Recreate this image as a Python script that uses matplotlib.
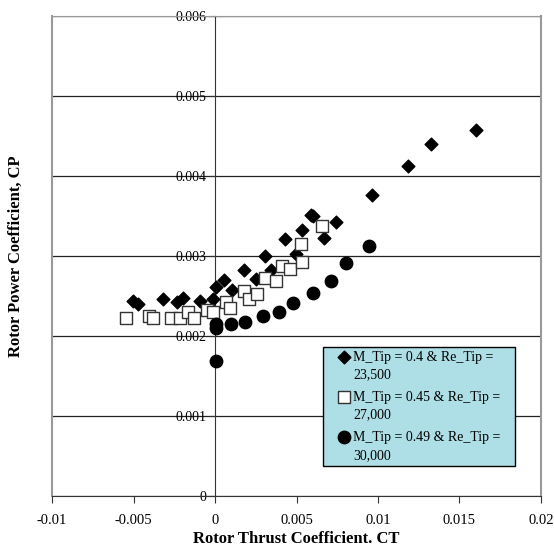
import matplotlib.pyplot as plt

plt.rcParams['font.family'] = ['Liberation Serif', 'DejaVu Serif']

# M_Tip = 0.4, Re_Tip = 23,500
ct_04 = [-0.00503, -0.00471, -0.00317, -0.00231, -0.00194, -0.00092, -0.00014,
         0.00006, 0.00055, 0.00104, 0.00178, 0.00252, 0.00309, 0.00342, 0.00429,
         0.00495, 0.00534, 0.00587, 0.00603, 0.00669, 0.00742, 0.00963, 0.01184,
         0.01323, 0.0160]
cp_04 = [0.00244, 0.00240, 0.00246, 0.00243, 0.00248, 0.00244, 0.00246,
         0.00261, 0.00270, 0.00257, 0.00282, 0.00271, 0.00300, 0.00283, 0.00321,
         0.00303, 0.00333, 0.00351, 0.00350, 0.00323, 0.00342, 0.00376, 0.00413,
         0.00440, 0.00458]

# M_Tip = 0.45, Re_Tip = 27,000
ct_045 = [-0.00546, -0.00403, -0.00382, -0.00272, -0.00215, -0.00164, -0.00127,
          -0.00051, -0.00010, 0.00067, 0.00092, 0.00180, 0.00207, 0.00260,
          0.00307, 0.00374, 0.00411, 0.00460, 0.00526, 0.00532, 0.00654]
cp_045 = [0.00222, 0.00225, 0.00223, 0.00223, 0.00223, 0.00230, 0.00223,
          0.00233, 0.00230, 0.00243, 0.00235, 0.00256, 0.00246, 0.00253,
          0.00272, 0.00269, 0.00288, 0.00284, 0.00315, 0.00293, 0.00337]

# M_Tip = 0.49, Re_Tip = 30,000
ct_049 = [0.00006, 0.00006, 0.00006, 0.00098, 0.00184, 0.00297, 0.00390,
          0.00480, 0.00603, 0.00712, 0.00804, 0.00945]
cp_049 = [0.00169, 0.00210, 0.00215, 0.00215, 0.00218, 0.00225, 0.00230,
          0.00241, 0.00254, 0.00269, 0.00291, 0.00313]

labels = ['M_Tip = 0.4 & Re_Tip =\n23,500',
          'M_Tip = 0.45 & Re_Tip =\n27,000',
          'M_Tip = 0.49 & Re_Tip =\n30,000']

xticks = [-0.01, -0.005, 0, 0.005, 0.01, 0.015, 0.02]
yticks = [0, 0.001, 0.002, 0.003, 0.004, 0.005, 0.006]

fig = plt.figure(figsize=(5.54, 5.48), dpi=100)
ax = fig.add_axes([0.0939, 0.0949, 0.8826, 0.8759])

ax.scatter(ct_04, cp_04, marker='D', s=42, color='black', zorder=3, label=labels[0])
ax.scatter(ct_045, cp_045, marker='s', s=75, facecolor='white', edgecolor='#333333',
           linewidth=1.0, zorder=3, label=labels[1])
ax.scatter(ct_049, cp_049, marker='o', s=80, color='black', zorder=3, label=labels[2])

ax.set_xlim(-0.01, 0.02)
ax.set_ylim(0, 0.006)
ax.set_xticks(xticks)
ax.set_yticks(yticks)
ax.set_xticklabels([f'{v:g}' for v in xticks], fontsize=10.5)
ax.set_yticklabels([f'{v:g}' for v in yticks], fontsize=10.5)

ax.yaxis.grid(True, color='#222222', linewidth=0.9)
ax.set_axisbelow(True)

# y axis crosses at x = 0, frame drawn in gray
ax.spines['left'].set_position(('data', 0))
ax.spines['left'].set_color('#333333')
ax.spines['bottom'].set_color('#333333')
ax.spines['top'].set_color('#999999')
ax.spines['right'].set_color('#999999')
ax.spines['right'].set_linewidth(1.5)
ax.plot([0, 0], [0, 1], transform=ax.transAxes, color='#999999', lw=1.5, clip_on=False)

ax.tick_params(axis='x', direction='out', length=5, color='#333333', pad=8)
ax.tick_params(axis='y', direction='out', length=4, color='#333333', pad=2)

ax.set_xlabel('Rotor Thrust Coefficient. CT', fontsize=12, fontweight='bold', labelpad=3)
ax.set_ylabel('Rotor Power Coefficient, CP', fontsize=12, fontweight='bold')
ax.yaxis.set_label_coords(-0.058, 0.5)

# markers sit beside the first line of each label
leg = ax.legend(loc='lower left', bbox_to_anchor=(0.555, 0.0625, 0.392, 0.245),
                mode='expand', fontsize=10, frameon=True, fancybox=False,
                handlelength=2.3, handletextpad=-0.45, labelspacing=0.7,
                borderpad=0.3, borderaxespad=0, scatteryoffsets=[1.5])
for t in leg.get_texts():
    t.set_linespacing(1.45)
leg.get_frame().set_facecolor('#AEDFE6')
leg.get_frame().set_edgecolor('black')
leg.get_frame().set_linewidth(1.0)
leg.get_frame().set_alpha(1)

fig.savefig('out.png', dpi=100)
